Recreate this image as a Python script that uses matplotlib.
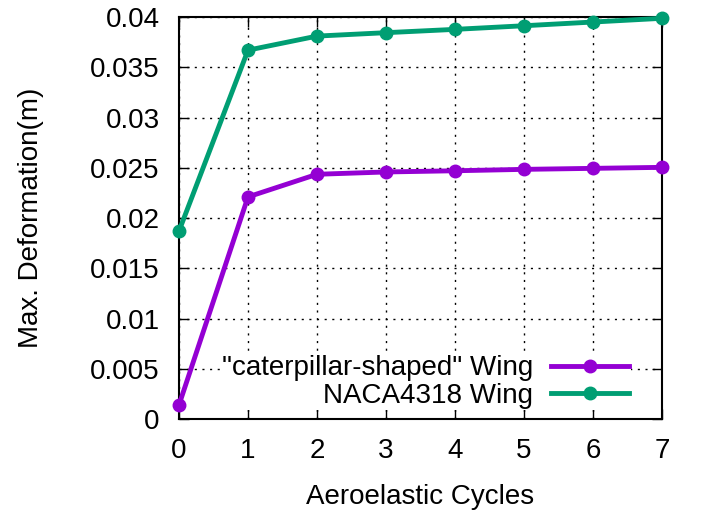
import matplotlib
matplotlib.use("Agg")
import matplotlib.pyplot as plt
import numpy as np

plt.rcParams['font.family'] = ['Liberation Sans', 'DejaVu Sans']

cycles = [0, 1, 2, 3, 4, 5, 6, 7]
caterpillar = [0.0014, 0.0221, 0.02435, 0.02458, 0.0247, 0.02484, 0.02494, 0.02504]
naca4318 = [0.0187, 0.0367, 0.0381, 0.03844, 0.03877, 0.03913, 0.0395, 0.03987]
series_labels = ['"caterpillar-shaped" Wing', 'NACA4318 Wing']
yticks = [0, 0.005, 0.01, 0.015, 0.02, 0.025, 0.03, 0.035, 0.04]
ytick_labels = ['0', '0.005', '0.01', '0.015', '0.02', '0.025', '0.03', '0.035', '0.04']

fig = plt.figure(figsize=(7.08, 5.11), dpi=100)
ax = fig.add_axes([179/708, 1 - 419/511, (662-179)/708, (419-17)/511])

ax.plot(cycles, caterpillar, color='#9400D3', lw=3.5, marker='o', ms=9,
        label=series_labels[0], zorder=3, clip_on=False)
ax.plot(cycles, naca4318, color='#009E73', lw=3.5, marker='o', ms=9,
        label=series_labels[1], zorder=3, clip_on=False)

ax.set_xlim(0, 7)
ax.set_ylim(0, 0.04)
ax.set_xticks(cycles)
ax.set_yticks(yticks)
ax.set_yticklabels(ytick_labels)
ax.tick_params(direction='in', length=7, width=1, labelsize=20,
               top=True, right=True)
ax.tick_params(axis='y', pad=14)
ax.tick_params(axis='x', pad=14)
ax.grid(True, color='black', linestyle=(0, (1.5, 4)), linewidth=1)
ax.set_axisbelow(True)
for s in ax.spines.values():
    s.set_linewidth(1.5)

ax.set_xlabel('Aeroelastic Cycles', fontsize=20, labelpad=14)
ax.set_ylabel('Max. Deformation(m)', fontsize=20, labelpad=33)

# opaque key box: hides the grid, drawn beneath the data lines
leg = ax.legend(loc='lower right', bbox_to_anchor=(0.935, 0.022), markerfirst=False,
                fontsize=20, frameon=True, fancybox=False, framealpha=1,
                edgecolor='none', facecolor='white', handlelength=2.8,
                handletextpad=0.65, labelspacing=0.05, borderpad=0.05,
                borderaxespad=0)
leg.set_zorder(2.5)

fig.savefig('out.png', dpi=100)
